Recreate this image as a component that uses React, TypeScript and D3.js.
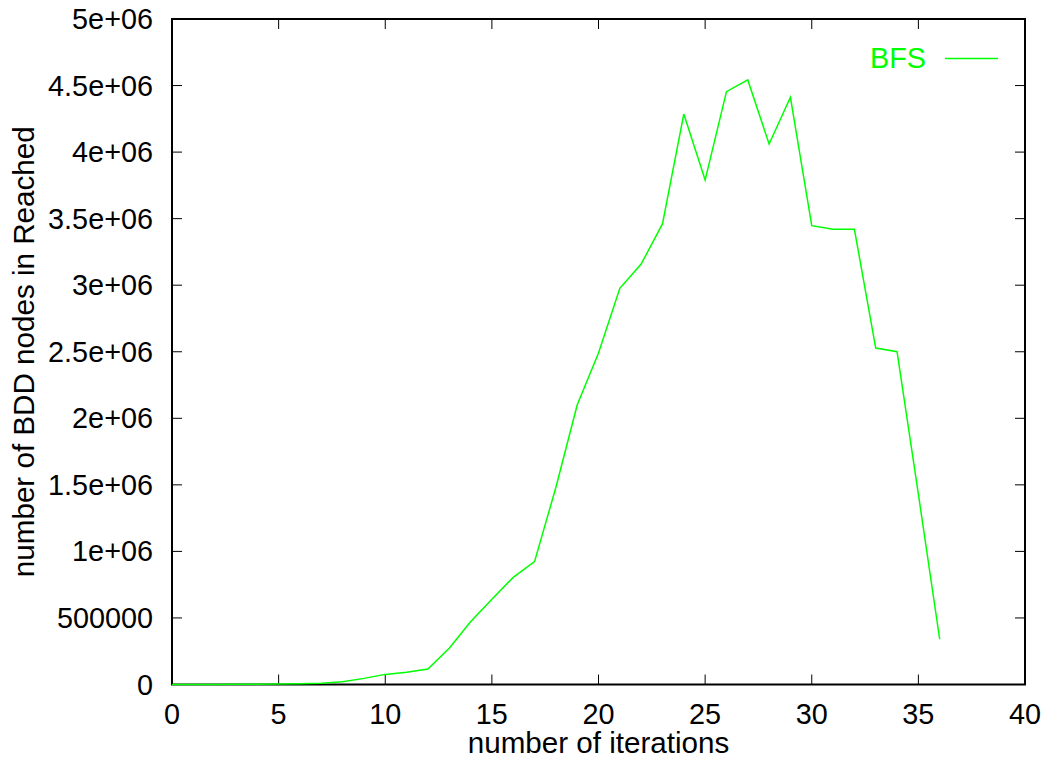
import * as d3 from 'd3';

const iterations = d3.range(0, 37);
const bfsNodes = [
  200, 400, 700, 1200, 2000, 3500, 6000, 9000, 20000, 46000,
  76000, 92000, 116000, 272000, 472000, 640000, 805000, 923000, 1480000, 2100000,
  2490000, 2977000, 3159000, 3460000, 4286000, 3790000, 4454000, 4542000, 4061000, 4412000,
  3447000, 3420000, 3420000, 2528000, 2500000, 1430000, 340000,
];
const xTicks = [0, 5, 10, 15, 20, 25, 30, 35, 40];
const yTicks = [0, 500000, 1000000, 1500000, 2000000, 2500000, 3000000, 3500000, 4000000, 4500000, 5000000];
const yTickLabels = ['0', '500000', '1e+06', '1.5e+06', '2e+06', '2.5e+06', '3e+06', '3.5e+06', '4e+06', '4.5e+06', '5e+06'];

const W = 1045;
const H = 759;
const plot = { left: 172, right: 1025, top: 19, bottom: 684.5 };
const FONT = 'Liberation Sans, Arial, Helvetica, sans-serif';
const FS = 28.8;
const TITLE_FS = 29.6;

export default function App() {
  const x = d3.scaleLinear().domain([0, 40]).range([plot.left, plot.right]);
  const y = d3.scaleLinear().domain([0, 5000000]).range([plot.bottom, plot.top]);

  const line = d3.line<number>()
    .x((d, i) => x(iterations[i]))
    .y(d => y(d));

  const tick = 10;

  return (
    <svg width={W} height={H} style={{ position: 'absolute', left: 0, top: 0, background: '#fff' }}
      fontFamily={FONT} fontSize={FS}>
      {/* ticks */}
      {xTicks.map(t => (
        <g key={'x' + t}>
          <line x1={x(t)} x2={x(t)} y1={plot.bottom} y2={plot.bottom - tick} stroke="#000" strokeWidth={1} />
          <line x1={x(t)} x2={x(t)} y1={plot.top} y2={plot.top + tick} stroke="#000" strokeWidth={1} />
          <text x={x(t)} y={724} textAnchor="middle" fill="#000">{t}</text>
        </g>
      ))}
      {yTicks.map((t, i) => (
        <g key={'y' + t}>
          <line x1={plot.left} x2={plot.left + tick} y1={y(t)} y2={y(t)} stroke="#000" strokeWidth={1} />
          <line x1={plot.right} x2={plot.right - tick} y1={y(t)} y2={y(t)} stroke="#000" strokeWidth={1} />
          <text x={153} y={y(t) + 10} textAnchor="end" fill="#000">{yTickLabels[i]}</text>
        </g>
      ))}

      {/* border */}
      <rect x={plot.left} y={plot.top} width={plot.right - plot.left} height={plot.bottom - plot.top}
        fill="none" stroke="#000" strokeWidth={2} />

      {/* series */}
      <path d={line(bfsNodes) ?? ''} fill="none" stroke="#00ff00" strokeWidth={1.5} />

      {/* legend */}
      <text x={926} y={68} textAnchor="end" fill="#00ff00">BFS</text>
      <line x1={945} x2={998} y1={58.5} y2={58.5} stroke="#00ff00" strokeWidth={1.5} />

      {/* axis titles */}
      <text x={(plot.left + plot.right) / 2} y={752.5} textAnchor="middle" fill="#000" fontSize={TITLE_FS}>
        number of iterations
      </text>
      <text transform={`translate(34,${(plot.top + plot.bottom) / 2}) rotate(-90)`} textAnchor="middle" fill="#000"
        fontSize={TITLE_FS}>
        number of BDD nodes in Reached
      </text>
    </svg>
  );
}
